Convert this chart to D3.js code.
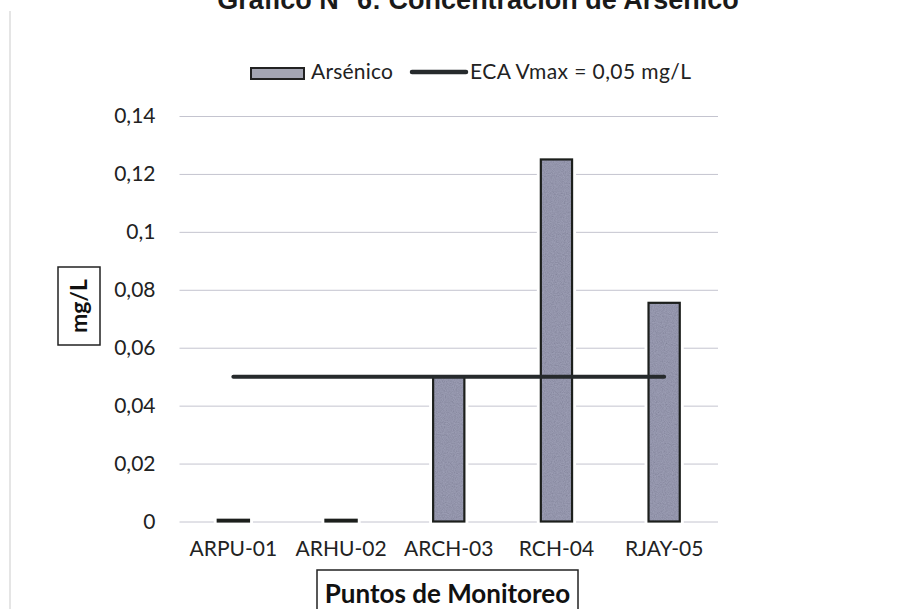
<!DOCTYPE html>
<html><head><meta charset="utf-8">
<script src="https://cdn.jsdelivr.net/npm/d3@7"></script>
<style>body{margin:0;background:#fff}svg{display:block}</style>
</head><body>
<script>
const categories = ["ARPU-01","ARHU-02","ARCH-03","RCH-04","RJAY-05"];
const arsenico = [0.0006,0.0006,0.05,0.125,0.0755];
const ecaLimit = [0.05,0.05,0.05,0.05,0.05];
const yTicks = [0,0.02,0.04,0.06,0.08,0.1,0.12,0.14];
const titleText = "Gráfico N° 6: Concentración de Arsénico";
const seriesNames = ["Arsénico","ECA Vmax = 0,05 mg/L"];
const xTitle = "Puntos de Monitoreo";
const yTitle = "mg/L";

const W=908,H=609;
const svg=d3.select("body").append("svg").attr("width",W).attr("height",H);
const font="Lato, 'Open Sans', sans-serif";

// speckle texture filter
const defs=svg.append("defs");
const f=defs.append("filter").attr("id","speckle").attr("x",0).attr("y",0).attr("width",1).attr("height",1);
f.append("feTurbulence").attr("type","fractalNoise").attr("baseFrequency",0.9).attr("numOctaves",2).attr("seed",4).attr("result","n");
f.append("feColorMatrix").attr("in","n").attr("type","saturate").attr("values",0).attr("result","g");
const ct=f.append("feComponentTransfer").attr("in","g").attr("result","a");
ct.append("feFuncA").attr("type","table").attr("tableValues","0.25 0.25");
f.append("feComposite").attr("in","a").attr("in2","SourceGraphic").attr("operator","in");

const x=d3.scaleBand().domain(categories).range([179.5,718]).paddingInner(0.71).paddingOuter(0.355);
const y=d3.scaleLinear().domain([0,0.14]).range([521.5,116]);

// left border
svg.append("line").attr("x1",10).attr("x2",10).attr("y1",11).attr("y2",H).attr("stroke","#d4d4d4").attr("stroke-width",1.2);

// title
svg.append("text").attr("x",478).attr("y",9).attr("text-anchor","middle")
  .attr("font-family","Arial, 'Liberation Sans', sans-serif").attr("font-weight","bold").attr("font-size",27)
  .attr("fill","#1a1a1a").text(titleText);

// grid
const yAxis=d3.axisLeft(y).tickValues(yTicks).tickSize(-(718-179.5)).tickPadding(24)
  .tickFormat(d=>d3.format("")(d).replace(".",","));
const gy=svg.append("g").attr("transform","translate(179.5,0)").call(yAxis);
gy.select(".domain").remove();
gy.selectAll(".tick line").attr("stroke","#c4c4cf").attr("stroke-width",1);
gy.selectAll(".tick text").attr("font-family",font).attr("font-size",21).attr("fill","#222");

// x axis labels
const xAxis=d3.axisBottom(x).tickSize(0).tickPadding(20);
const gx=svg.append("g").attr("transform","translate(0,521.5)").call(xAxis);
gx.select(".domain").remove();
gx.selectAll(".tick text").attr("font-family",font).attr("font-size",21).attr("fill","#222");

const bx=(d,i)=>x(categories[i]);
// bar white halo (gridline gaps)
svg.selectAll(".halo").data(arsenico).enter().append("rect")
  .attr("x",bx).attr("width",x.bandwidth())
  .attr("y",d=>y(d)).attr("height",d=>y(0)-y(d))
  .attr("fill","#fff").attr("stroke","#fff").attr("stroke-width",8);
// bars
svg.selectAll(".bar").data(arsenico).enter().append("rect")
  .attr("x",bx).attr("width",x.bandwidth())
  .attr("y",d=>y(d)).attr("height",d=>y(0)-y(d))
  .attr("fill","#8688a6");
svg.selectAll(".tex").data(arsenico).enter().append("rect")
  .attr("x",bx).attr("width",x.bandwidth())
  .attr("y",d=>y(d)).attr("height",d=>y(0)-y(d))
  .attr("fill","#000").attr("filter","url(#speckle)");
svg.selectAll(".outline").data(arsenico).enter().append("rect")
  .attr("x",bx).attr("width",x.bandwidth())
  .attr("y",d=>y(d)).attr("height",d=>y(0)-y(d))
  .attr("fill","none").attr("stroke","#1c1f1c").attr("stroke-width",2.2);

// ECA line
const line=d3.line().x((d,i)=>x(categories[i])+x.bandwidth()/2).y(d=>y(d));
svg.append("path").datum(ecaLimit).attr("d",line).attr("fill","none")
  .attr("stroke","#262a2c").attr("stroke-width",4).attr("stroke-linecap","round");

// legend
const lg=svg.append("g").attr("font-family",font).attr("font-size",21).attr("fill","#222");
lg.append("rect").attr("x",251).attr("y",68).attr("width",53).attr("height",11)
  .attr("fill","#a4a5b3").attr("stroke","#222").attr("stroke-width",2);
lg.append("text").attr("x",311).attr("y",79).attr("textLength",82).text(seriesNames[0]);
lg.append("line").attr("x1",412).attr("x2",466).attr("y1",72).attr("y2",72)
  .attr("stroke","#262a2c").attr("stroke-width",4.5).attr("stroke-linecap","round");
lg.append("text").attr("x",470).attr("y",79).attr("textLength",221).text(seriesNames[1]);

// y title
const yt=svg.append("g").attr("transform","translate(79,306) rotate(-90)");
yt.append("rect").attr("x",-39).attr("y",-21).attr("width",78).attr("height",42)
  .attr("fill","none").attr("stroke","#222").attr("stroke-width",1.5);
yt.append("text").attr("x",0).attr("y",8).attr("text-anchor","middle").attr("font-family",font)
  .attr("font-weight","bold").attr("font-size",23).attr("fill","#111").text(yTitle);

// x title
svg.append("rect").attr("x",317).attr("y",570).attr("width",261).attr("height",50)
  .attr("fill","none").attr("stroke","#222").attr("stroke-width",1.5);
svg.append("text").attr("x",447.5).attr("y",603).attr("text-anchor","middle").attr("font-family",font)
  .attr("font-weight","bold").attr("font-size",26).attr("fill","#111").text(xTitle);
</script>
</body></html>
